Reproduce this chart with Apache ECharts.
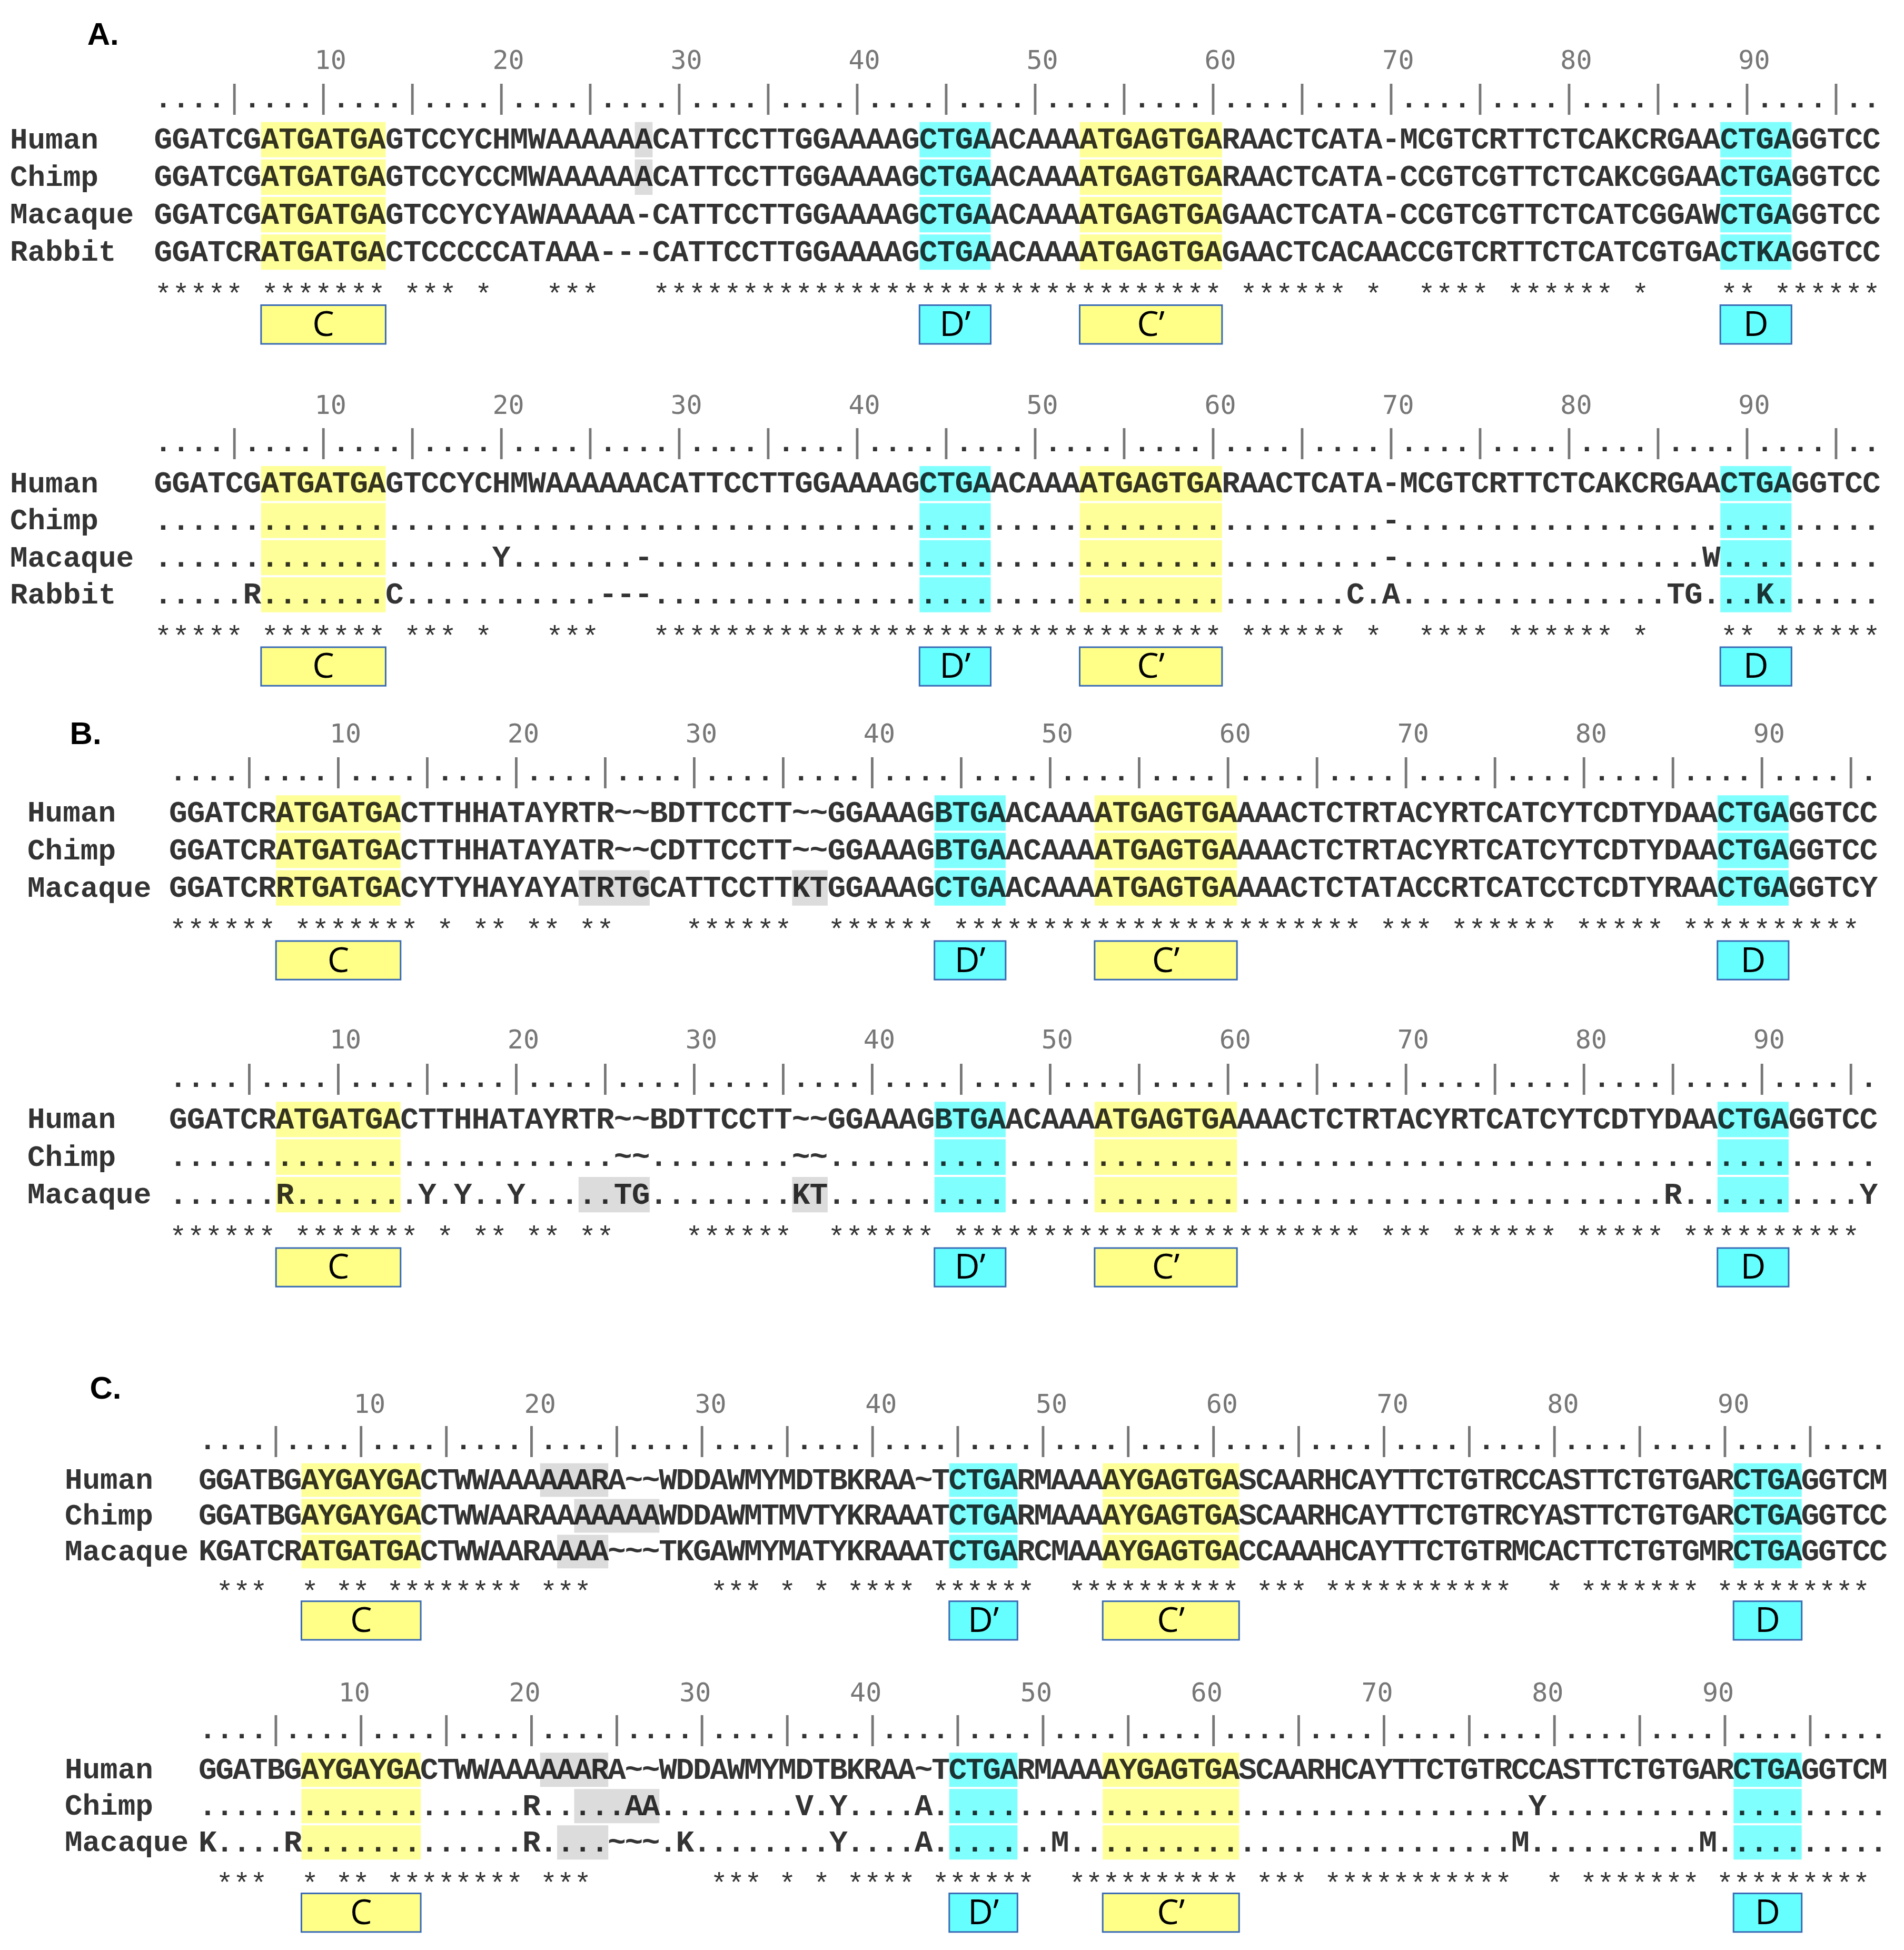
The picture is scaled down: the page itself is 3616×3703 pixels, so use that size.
<!DOCTYPE html>
<html><head><meta charset="utf-8">
<script src="https://cdn.jsdelivr.net/npm/echarts@6/dist/echarts.min.js"></script>
<style>html,body{margin:0;padding:0;background:#fff}#c{width:3616px;height:3703px}</style>
</head><body><div id="c"></div>
<script>
// ---------------- DATA ----------------
const tickNumbers = [10,20,30,40,50,60,70,80,90];
const sectionLabels = ['A.','B.','C.'];
const boxLabels = ['C','D\u2019','C\u2019','D'];

const aNames = ['Human','Chimp','Macaque','Rabbit'];
const aHuman   = 'GGATCGATGATGAGTCCYCHMWAAAAAACATTCCTTGGAAAAGCTGAACAAAATGAGTGARAACTCATA-MCGTCRTTCTCAKCRGAACTGAGGTCC';
const aChimp   = 'GGATCGATGATGAGTCCYCCMWAAAAAACATTCCTTGGAAAAGCTGAACAAAATGAGTGARAACTCATA-CCGTCGTTCTCAKCGGAACTGAGGTCC';
const aMacaque = 'GGATCGATGATGAGTCCYCYAWAAAAA-CATTCCTTGGAAAAGCTGAACAAAATGAGTGAGAACTCATA-CCGTCGTTCTCATCGGAWCTGAGGTCC';
const aRabbit  = 'GGATCRATGATGACTCCCCCATAAA---CATTCCTTGGAAAAGCTGAACAAAATGAGTGAGAACTCACAACCGTCRTTCTCATCGTGACTKAGGTCC';
const aStars   = [[1,5],[7,13],[15,17],[19,19],[23,25],[29,60],[62,67],[69,69],[72,75],[77,82],[84,84],[89,90],[92,97]];
const aDiffChimp   = [[70,'-']];
const aDiffMacaque = [[20,'Y'],[28,'-'],[70,'-'],[88,'W']];
const aDiffRabbit  = [[6,'R'],[14,'C'],[26,'-'],[27,'-'],[28,'-'],[68,'C'],[70,'A'],[86,'T'],[87,'G'],[91,'K']];
const aMotifs = [[7,13,0],[44,47,1],[53,60,2],[89,92,3]];   // [from, to, label]
const aGray1 = [[0,28,28],[1,28,28]];                        // [row, from, to]
const aGray2 = [];

const bNames = ['Human','Chimp','Macaque'];
const bHuman   = 'GGATCRATGATGACTTHHATAYRTR~~BDTTCCTT~~GGAAAGBTGAACAAAATGAGTGAAAACTCTRTACYRTCATCYTCDTYDAACTGAGGTCC';
const bChimp   = 'GGATCRATGATGACTTHHATAYATR~~CDTTCCTT~~GGAAAGBTGAACAAAATGAGTGAAAACTCTRTACYRTCATCYTCDTYDAACTGAGGTCC';
const bMacaque = 'GGATCRRTGATGACYTYHAYAYATRTGCATTCCTTKTGGAAAGCTGAACAAAATGAGTGAAAACTCTATACCRTCATCCTCDTYRAACTGAGGTCY';
const bStars   = [[1,6],[8,14],[16,16],[18,19],[21,22],[24,25],[30,35],[38,43],[45,67],[69,71],[73,78],[80,84],[86,95]];
const bDiffChimp   = [[26,'~'],[27,'~'],[36,'~'],[37,'~']];
const bDiffMacaque = [[7,'R'],[15,'Y'],[17,'Y'],[20,'Y'],[26,'T'],[27,'G'],[36,'K'],[37,'T'],[85,'R'],[96,'Y']];
const bMotifs = [[7,13,0],[44,47,1],[53,60,2],[88,91,3]];
const bGray = [[2,24,27],[2,36,37]];

const cNames = ['Human','Chimp','Macaque'];
const cHuman   = 'GGATBGAYGAYGACTWWAAAAAARA~~WDDAWMYMDTBKRAA~TCTGARMAAAAYGAGTGASCAARHCAYTTCTGTRCCASTTCTGTGARCTGAGGTCM';
const cChimp   = 'GGATBGAYGAYGACTWWAARAAAAAAAWDDAWMTMVTYKRAAATCTGARMAAAAYGAGTGASCAARHCAYTTCTGTRCYASTTCTGTGARCTGAGGTCC';
const cMacaque = 'KGATCRATGATGACTWWAARAAAA~~~TKGAWMYMATYKRAAATCTGARCMAAAYGAGTGACCAAAHCAYTTCTGTRMCACTTCTGTGMRCTGAGGTCC';
const cStars   = [[2,4],[7,7],[9,10],[12,19],[21,23],[31,33],[35,35],[37,37],[39,42],[44,49],[52,61],[63,65],[67,77],[80,80],[82,88],[90,98]];
const cDiffChimp   = [[20,'R'],[26,'A'],[27,'A'],[36,'V'],[38,'Y'],[43,'A'],[79,'Y']];
const cDiffMacaque = [[1,'K'],[6,'R'],[20,'R'],[25,'~'],[26,'~'],[27,'~'],[29,'K'],[38,'Y'],[43,'A'],[51,'M'],[78,'M'],[89,'M']];
const cMotifs = [[7,13,0],[45,48,1],[54,61,2],[91,94,3]];
const cGray = [[0,21,24],[1,23,27],[2,22,24]];

// ---------------- BUILD ----------------
function dotted(len, diffs){ const a = Array(len).fill('.'); diffs.forEach(([p,c])=>a[p-1]=c); return a.join(''); }
function starStr(len, ranges){ const a = Array(len).fill(' '); ranges.forEach(([f,t])=>{for(let i=f;i<=t;i++)a[i-1]='*';}); return a.join(''); }

const blocks = [
  {names:aNames, seqs:[aHuman,aChimp,aMacaque,aRabbit], stars:aStars, motifs:aMotifs, gray:aGray1,
   L:{left:124,cw:14.3,top:35,rowH:30.1,numOff:0.4,nameX:8}},
  {names:aNames, seqs:[aHuman,dotted(97,aDiffChimp),dotted(97,aDiffMacaque),dotted(97,aDiffRabbit)], stars:aStars, motifs:aMotifs, gray:aGray2,
   L:{left:124,cw:14.3,top:312,rowH:29.8,numOff:0.4,nameX:8}},
  {names:bNames, seqs:[bHuman,bChimp,bMacaque], stars:bStars, motifs:bMotifs, gray:bGray,
   L:{left:136,cw:14.3,top:576,rowH:30.1,numOff:0.4,nameX:22}},
  {names:bNames, seqs:[bHuman,dotted(96,bDiffChimp),dotted(96,bDiffMacaque)], stars:bStars, motifs:bMotifs, gray:bGray,
   L:{left:136,cw:14.3,top:822,rowH:30.2,numOff:0.4,nameX:22}},
  {names:cNames, seqs:[cHuman,cChimp,cMacaque], stars:cStars, motifs:cMotifs, gray:cGray,
   L:{left:160,cw:13.7,top:1115.5,rowH:28.7,numOff:0.5,nameX:52}},
  {names:cNames, seqs:[cHuman,dotted(99,cDiffChimp),dotted(99,cDiffMacaque)], stars:cStars, motifs:cMotifs, gray:cGray,
   L:{left:160,cw:13.7,top:1347,rowH:29.2,numOff:-0.4,nameX:52}}
];

const S = 3616/1530;
const HL = ['#ffff99','#80ffff','#dcdcdc'];
const BOXFILL = ['#ffff88','#66ffff'];
const grids=[], xAxes=[], yAxes=[], series=[];

function charSeries(i, data, font){
  return {type:'scatter', xAxisIndex:i, yAxisIndex:i, symbolSize:0, silent:true, clip:false, z:5,
    data, label:{show:true, position:'inside', align:font.align||'center', offset:[0,(font.dy||0)*S], formatter:p=>p.data[2], color:font.color||'#000',
      fontFamily:font.family, fontSize:font.size, fontWeight:font.weight||'normal'}};
}

blocks.forEach((b,i)=>{
  const N = b.seqs[0].length, L = b.L, k = b.seqs.length;
  const rows = ['num','ruler'].concat(b.names).concat(['stars','box']);
  grids.push({left:L.left*S, top:L.top*S, width:N*L.cw*S, height:rows.length*L.rowH*S});
  xAxes.push({gridIndex:i, type:'value', min:0.5, max:N+0.5, show:false});
  yAxes.push({gridIndex:i, type:'category', inverse:true, data:rows, show:false});
  const hl=[];
  for(let r=0;r<k;r++){
    b.motifs.forEach(m=>hl.push([m[0], 2+r, m[1], (m[2]===0||m[2]===2)?0:1]));
  }
  b.gray.forEach(g=>hl.push([g[1], 2+g[0], g[2], 2]));
  series.push({type:'custom', xAxisIndex:i, yAxisIndex:i, silent:true, z:1, data:hl,
    renderItem:(params, api)=>{
      const p0=api.coord([api.value(0)-0.5, api.value(1)]);
      const p1=api.coord([api.value(2)+0.5, api.value(1)]);
      const h=api.size([0,1])[1];
      return {type:'rect', shape:{x:p0[0], y:p0[1]-h/2+2+2*S, width:p1[0]-p0[0], height:h-4},
        style:{fill:HL[api.value(3)]}};
    }});
  const bx = b.motifs.map(m=>[m[0], rows.length-1, m[1], m[2]]);
  series.push({type:'custom', xAxisIndex:i, yAxisIndex:i, silent:true, z:3, data:bx,
    renderItem:(params, api)=>{
      const p0=api.coord([api.value(0)-0.5, api.value(1)]);
      const p1=api.coord([api.value(2)+0.5, api.value(1)]);
      const h=31*S, lab=api.value(3);
      return {type:'group', children:[
        {type:'rect', shape:{x:p0[0], y:p0[1]-h/2, width:p1[0]-p0[0], height:h},
          style:{fill:BOXFILL[(lab===0||lab===2)?0:1], stroke:'#3a6bb5', lineWidth:3}},
        {type:'text', style:{text:boxLabels[lab], x:(p0[0]+p1[0])/2, y:p0[1]+3, align:'center', verticalAlign:'middle',
          fontFamily:'Open Sans', fontSize:66, fill:'#000'}}
      ]};
    }});
  const nameCol = (L.nameX - L.left)/L.cw + 0.5;
  series.push(charSeries(i, b.names.map((n,r)=>[nameCol, 2+r, n]), {family:'Liberation Mono', size:56, weight:'bold', dy:3, align:'left'}));
  series.push(charSeries(i, tickNumbers.map(n=>[n+L.numOff, 0, String(n)]), {family:'DejaVu Sans Mono', size:50, color:'#555'}));
  const dots=[], bars=[];
  for(let c=1;c<=N;c++){ if(c%5===0) bars.push([c,1,'|']); else dots.push([c,1,'.']); }
  series.push(charSeries(i, dots, {family:'Liberation Mono', size:56, weight:'bold'}));
  series.push(charSeries(i, bars, {family:'DejaVu Sans Mono', size:58, color:'#555'}));
  const sd=[];
  b.seqs.forEach((s,r)=>{ for(let c=0;c<s.length;c++) sd.push([c+1, 2+r, s[c]]); });
  series.push(charSeries(i, sd, {family:'Liberation Mono', size:58, weight:'bold', dy:3}));
  const st=starStr(N,b.stars), sdata=[];
  for(let c=0;c<N;c++) if(st[c]==='*') sdata.push([c+1, rows.length-2, '*']);
  series.push(charSeries(i, sdata, {family:'Liberation Mono', size:54, dy:7}));
});

const titles = [
  {text:sectionLabels[0], left:68*S, top:14*S},
  {text:sectionLabels[1], left:54*S, top:576*S},
  {text:sectionLabels[2], left:70*S, top:1102*S}
].map(t=>Object.assign(t,{textStyle:{fontFamily:'Liberation Sans', fontWeight:'bold', fontSize:60, color:'#000'}}));

const chart = echarts.init(document.getElementById('c'));
chart.setOption({animation:false, backgroundColor:'#fff', title:titles, grid:grids, xAxis:xAxes, yAxis:yAxes, series});
</script></body></html>
